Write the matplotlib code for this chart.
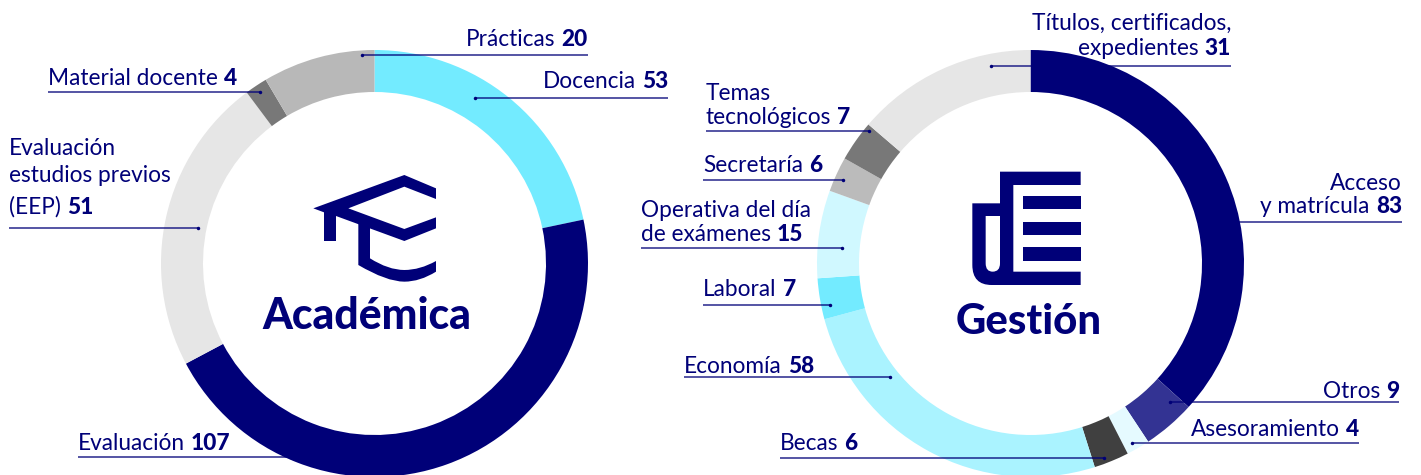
import matplotlib
matplotlib.use("Agg")
import matplotlib.pyplot as plt
from matplotlib.patches import PathPatch
from matplotlib.path import Path

W, H = 1421, 475
NAVY = "#000078"

# left donut, clockwise from the top
# the reference draws the Docencia and EEP arcs with each other's numbers, so arcs and printed numbers differ
acad_labels = ["Docencia", "Evaluación", "Evaluación estudios previos (EEP)", "Material docente", "Prácticas"]
acad_arcs = [51, 107, 53, 4, 20]
acad_colors = ["#73EBFF", NAVY, "#E6E6E6", "#787878", "#B8B8B8"]

# right donut, clockwise from the top
gest_labels = ["Acceso y matrícula", "Otros", "Asesoramiento", "Becas", "Economía", "Laboral",
               "Operativa del día de exámenes", "Secretaría", "Temas tecnológicos",
               "Títulos, certificados, expedientes"]
gest_values = [83, 9, 4, 6, 58, 7, 15, 6, 7, 31]
gest_colors = [NAVY, "#333393", "#E5FAFF", "#404040", "#AAF3FF", "#73EBFF", "#D0F8FF", "#BBBBBB", "#787878", "#E6E6E6"]

# text lines, last one gets the bold number: lines, number, align, x, baselines, line y, line start, line end
callouts = [
    (["Prácticas"], 20, "right", 588, [46], 55, 362, 588),
    (["Docencia"], 53, "right", 668, [88], 98, 475, 668),
    (["Material docente"], 4, "left", 48, [85], 92, 260, 48),
    (["Evaluación", "estudios previos", "(EEP)"], 51, "left", 9, [155, 182, 214], 228, 198, 9),
    (["Evaluación"], 107, "left", 78, [450], 457, 290, 78),
    (["Títulos, certificados,", "expedientes"], 31, "right", 1231, [30, 55], 66, 991, 1231),
    (["Acceso", "y matrícula"], 83, "right", 1402, [190, 213], 222, 1207, 1402),
    (["Temas", "tecnológicos"], 7, "left", 706, [100, 124], 131, 869, 706),
    (["Secretaría"], 6, "left", 703, [172], 180, 843, 703),
    (["Operativa del día", "de exámenes"], 15, "left", 641, [217, 241], 248, 842, 641),
    (["Laboral"], 7, "left", 703, [296], 305, 830, 703),
    (["Economía"], 58, "left", 684, [373], 377, 890, 684),
    (["Otros"], 9, "right", 1399, [398], 402, 1170, 1399),
    (["Asesoramiento"], 4, "right", 1359, [436], 443, 1132, 1359),
    (["Becas"], 6, "left", 780, [450], 458, 1104, 780),
]

plt.rcParams["font.family"] = "Lato"
FS = 16.3

fig = plt.figure(figsize=(W / 100, H / 100), dpi=100)
ax = fig.add_axes([0, 0, 1, 1])


def Y(y):
    return H - y


def donut(values, colors, cx):
    ax.pie(values, colors=colors, center=(cx, Y(263.5)), radius=213.5, startangle=90, counterclock=False,
           wedgeprops={"width": 42, "linewidth": 0}, frame=True)


donut(acad_arcs, acad_colors, 374.5)
donut(gest_values, gest_colors, 1030.5)
ax.set_xlim(0, W)
ax.set_ylim(0, H)
ax.axis("off")


def shape(verts, codes, ox, oy):
    pts = [(ox + x / 3, Y(oy + y / 3)) for x, y in verts]
    ax.add_patch(PathPatch(Path(pts, codes), facecolor=NAVY, edgecolor="none"))


def polygon(verts, ox, oy):
    codes = [Path.MOVETO] + [Path.LINETO] * (len(verts) - 1)
    shape(verts, codes, ox, oy)


# graduation cap
polygon([(160, 145), (433, 45), (528, 85), (528, 117), (433, 80), (265, 145), (433, 207), (528, 172),
         (528, 205), (433, 243), (228, 168), (228, 243), (192, 243), (192, 157)], 260, 160)
shape([(295, 182), (330, 195), (330, 295), (385, 330), (433, 330), (480, 330), (528, 303), (528, 335),
       (480, 365), (433, 365), (380, 365), (295, 315), (295, 182)],
      [Path.MOVETO, Path.LINETO, Path.LINETO, Path.CURVE3, Path.CURVE3, Path.CURVE3, Path.CURVE3, Path.LINETO,
       Path.CURVE3, Path.CURVE3, Path.CURVE3, Path.CURVE3, Path.CLOSEPOLY], 260, 160)

# document icon
shape([(150, 35), (392, 35), (392, 75), (190, 75), (190, 335), (392, 335), (392, 375), (125, 375),
       (67, 375), (67, 315), (67, 130), (150, 130), (150, 35),
       (107, 168), (107, 310), (107, 335), (128, 335), (150, 335), (150, 310), (150, 168), (107, 168)],
      [Path.MOVETO, Path.LINETO, Path.LINETO, Path.LINETO, Path.LINETO, Path.LINETO, Path.LINETO, Path.LINETO,
       Path.CURVE3, Path.CURVE3, Path.LINETO, Path.LINETO, Path.CLOSEPOLY,
       Path.MOVETO, Path.LINETO, Path.CURVE3, Path.CURVE3, Path.CURVE3, Path.CURVE3, Path.LINETO, Path.CLOSEPOLY],
      950, 160)
for top, bottom in [(108, 148), (185, 225), (262, 302)]:
    polygon([(218, top), (392, top), (392, bottom), (218, bottom)], 950, 160)

ax.text(366.5, Y(329), "Académica", ha="center", va="baseline", color=NAVY, fontsize=30.7, fontweight="black")
ax.text(1028.5, Y(334), "Gestión", ha="center", va="baseline", color=NAVY, fontsize=30.2, fontweight="black")


def text_width(t):
    return t.get_window_extent(fig.canvas.get_renderer()).width


for lines, number, align, x, baselines, line_y, start, end in callouts:
    for line, base in zip(lines[:-1], baselines[:-1]):
        ax.text(x, Y(base), line, ha=align, va="baseline", color=NAVY, fontsize=FS)
    if align == "left":
        t = ax.text(x, Y(baselines[-1]), lines[-1], ha="left", va="baseline", color=NAVY, fontsize=FS)
        ax.text(x + text_width(t) + 6, Y(baselines[-1]), str(number), ha="left", va="baseline", color=NAVY,
                fontsize=FS, fontweight="black")
    else:
        t = ax.text(x, Y(baselines[-1]), str(number), ha="right", va="baseline", color=NAVY, fontsize=FS,
                    fontweight="black")
        ax.text(x - text_width(t) - 6, Y(baselines[-1]), lines[-1], ha="right", va="baseline", color=NAVY,
                fontsize=FS)
    ax.plot([start, end], [Y(line_y), Y(line_y)], color=NAVY, alpha=0.85, lw=1.1, solid_capstyle="butt", zorder=5)
    ax.plot([start], [Y(line_y)], "o", color=NAVY, ms=2.5, mew=0, zorder=6)

fig.savefig("out.png", dpi=100)
